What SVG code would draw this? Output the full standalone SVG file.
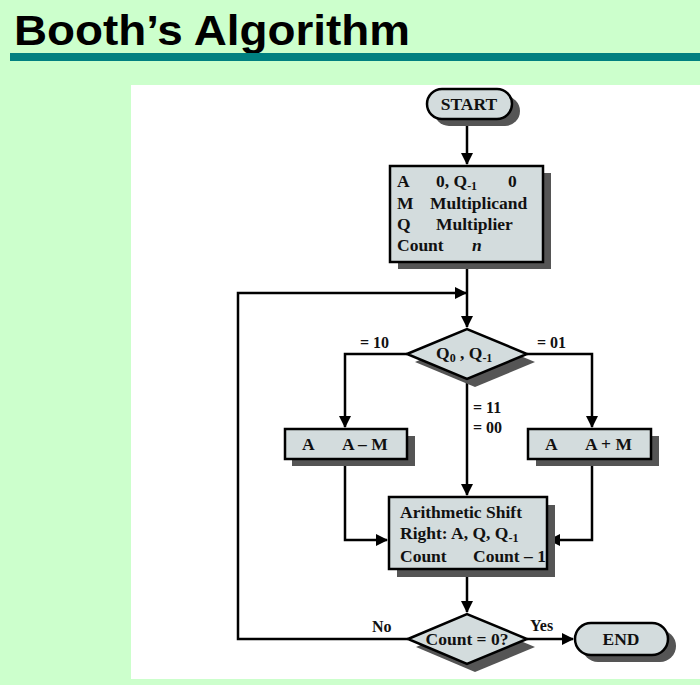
<svg xmlns="http://www.w3.org/2000/svg" width="700" height="685" viewBox="0 0 700 685">
<defs>
<marker id="ah" markerWidth="12" markerHeight="12" refX="11" refY="6" orient="auto" markerUnits="userSpaceOnUse">
<path d="M0,0 L12,6 L0,12 z" fill="#000"/>
</marker>
<style>
.bg{fill:#ccffcc}
.shape{fill:#d3dcdd;stroke:#000;stroke-width:2.5}
.shadow{fill:#555}
.conn{fill:none;stroke:#000;stroke-width:2.5}
.t{font-family:"Liberation Serif",serif;font-weight:bold;font-size:17.5px;fill:#111}
.sub{font-size:12px}
.lbl{font-family:"Liberation Serif",serif;font-weight:bold;font-size:16px;fill:#111}
</style>
</defs>
<rect class="bg" x="0" y="0" width="700" height="685"/>
<text x="14" y="45" font-family="'Liberation Sans',Arial,sans-serif" font-weight="bold" font-size="43" textLength="396" lengthAdjust="spacingAndGlyphs" fill="#000">Booth’s Algorithm</text>
<rect x="10" y="53" width="690" height="8" fill="#008080"/>
<rect x="131" y="85" width="569" height="594" fill="#fff"/>

<g id="connectors">
<path class="conn" d="M467,119 L467,164" marker-end="url(#ah)"/>
<path class="conn" d="M467,262 L467,327" marker-end="url(#ah)"/>
<path class="conn" d="M408,639 L238,639 L238,293 L466,293" marker-end="url(#ah)"/>
<path class="conn" d="M407,354 L345,354 L345,427" marker-end="url(#ah)"/>
<path class="conn" d="M527,354 L592,354 L592,427" marker-end="url(#ah)"/>
<path class="conn" d="M467,379 L467,495" marker-end="url(#ah)"/>
<path class="conn" d="M345,459 L345,540 L387,540" marker-end="url(#ah)"/>
<path class="conn" d="M592,459 L592,540 L549,540" marker-end="url(#ah)"/>
<path class="conn" d="M467,569 L467,612" marker-end="url(#ah)"/>
<path class="conn" d="M527,639 L573,639" marker-end="url(#ah)"/>
<text class="lbl" x="360" y="348">= 10</text>
<text class="lbl" x="537" y="348">= 01</text>
<text class="lbl" x="473" y="413">= 11</text>
<text class="lbl" x="473" y="433">= 00</text>
<text class="lbl" x="372" y="632">No</text>
<text class="lbl" x="530" y="631">Yes</text>
</g>

<g id="start">
<rect class="shadow" x="434" y="96" width="86" height="30" rx="15"/>
<rect class="shape" x="427" y="89" width="85" height="30" rx="15"/>
<text class="t" x="469" y="110" text-anchor="middle">START</text>
</g>

<g id="init">
<rect class="shadow" x="398" y="173" width="153" height="96"/>
<rect class="shape" x="390" y="166" width="153" height="96"/>
<text class="t" x="397" y="187">A</text>
<text class="t" x="436" y="187">0, Q<tspan class="sub" dy="3">-1</tspan></text>
<text class="t" x="508" y="187">0</text>
<text class="t" x="397" y="209">M</text>
<text class="t" x="430" y="209">Multiplicand</text>
<text class="t" x="397" y="230">Q</text>
<text class="t" x="436" y="230">Multiplier</text>
<text class="t" x="397" y="251">Count</text>
<text class="t" x="472" y="251" font-style="italic">n</text>
</g>

<g id="decision1">
<polygon class="shadow" points="415,362 475,337 535,362 475,387"/>
<polygon class="shape" points="407,354 467,329 527,354 467,379"/>
<text class="t" x="436" y="359">Q<tspan class="sub" dy="3">0</tspan><tspan dy="-3"> , Q</tspan><tspan class="sub" dy="3">-1</tspan></text>
</g>

<g id="subtract">
<rect class="shadow" x="292" y="436" width="123" height="30"/>
<rect class="shape" x="285" y="429" width="122" height="30"/>
<text class="t" x="302" y="450">A</text>
<text class="t" x="342" y="450">A – M</text>
</g>

<g id="add">
<rect class="shadow" x="536" y="436" width="123" height="30"/>
<rect class="shape" x="528" y="429" width="123" height="30"/>
<text class="t" x="545" y="450">A</text>
<text class="t" x="585" y="450">A + M</text>
</g>

<g id="shift">
<rect class="shadow" x="397" y="505" width="158" height="72"/>
<rect class="shape" x="389" y="497" width="158" height="72"/>
<text class="t" x="400" y="518">Arithmetic Shift</text>
<text class="t" x="400" y="539">Right: A, Q, Q<tspan class="sub" dy="3">-1</tspan></text>
<text class="t" x="400" y="562">Count</text>
<text class="t" x="473" y="562">Count – 1</text>
</g>

<g id="decision2">
<polygon class="shadow" points="416,647 475,622 535,647 475,672"/>
<polygon class="shape" points="408,639 467,614 527,639 467,664"/>
<text class="t" x="467" y="645" text-anchor="middle">Count = 0?</text>
</g>

<g id="end">
<rect class="shadow" x="582" y="630" width="94" height="32" rx="16"/>
<rect class="shape" x="575" y="623" width="93" height="32" rx="16"/>
<text class="t" x="621" y="645" text-anchor="middle">END</text>
</g>
</svg>
